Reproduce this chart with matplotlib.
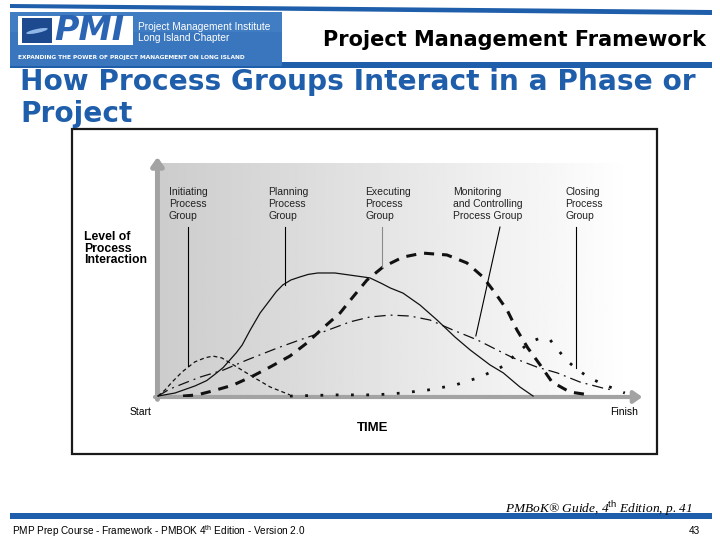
import numpy as np
import matplotlib.pyplot as plt
from matplotlib.patches import Rectangle, Ellipse, Polygon

plt.rcParams["mathtext.fontset"] = "custom"
plt.rcParams["mathtext.rm"] = "Liberation Sans"

# level of interaction over time (time 0-100, level 0-100)
init_t = [0.2, 1.7, 3.2, 5.3, 8.0, 10.1, 11.8, 13.7, 16.9, 20.7, 23.9, 28.1]
init_l = [0.4, 3.0, 6.4, 10.7, 15.0, 16.7, 17.5, 16.7, 12.8, 8.1, 4.3, 0.9]

plan_t = [0.2, 3.8, 8.0, 10.5, 12.3, 14.0, 15.4, 16.8, 18.0, 19.7, 21.8, 23.9, 25.2,
          26.6, 28.3, 30.2, 32.0, 34.0, 37.6, 40.8, 45.0, 47.5, 49.3, 52.0, 55.6,
          59.2, 63.0, 66.2, 70.4, 73.2, 76.7, 79.5]
plan_l = [0.4, 1.7, 4.7, 7.0, 9.8, 12.6, 15.8, 19.0, 22.2, 28.6, 35.9, 41.5, 45.0,
          47.9, 50.0, 51.3, 52.4, 53.0, 53.0, 52.1, 50.9, 48.5, 46.6, 44.4, 39.3,
          32.9, 25.6, 20.1, 13.7, 10.3, 4.3, 0.4]

exec_t = [5.5, 8.5, 11.8, 16.1, 20.3, 23.9, 28.1, 31.7, 35.1, 38.7, 41.4, 44.4, 47.8,
          52.0, 56.2, 61.3, 65.5, 68.9, 71.5, 74.0, 76.1, 78.4, 81.0, 83.5, 87.3, 91.5]
exec_l = [0.4, 0.9, 2.6, 5.1, 9.0, 12.8, 17.5, 23.1, 29.5, 35.9, 42.7, 50.0, 55.6,
          59.8, 61.5, 60.7, 57.3, 51.3, 44.4, 37.2, 28.6, 20.9, 13.7, 6.4, 2.1, 0.9]

mon_t = [0.2, 2.7, 5.9, 9.1, 14.0, 19.0, 25.4, 30.2, 35.1, 40.8, 45.0, 49.3, 53.5,
         57.7, 62.6, 67.7, 71.9, 75.3, 80.3, 84.6, 89.4, 94.3, 96.2]
mon_l = [0.4, 3.4, 6.0, 8.5, 11.5, 15.8, 20.9, 24.4, 27.8, 32.1, 34.2, 35.0, 34.6,
         32.9, 28.6, 24.4, 20.1, 16.7, 12.8, 10.3, 6.4, 3.8, 3.0]

close_t = [28.1, 37.6, 46.1, 51.8, 57.3, 63.0, 68.3, 73.2, 76.3, 78.9, 81.0, 83.1,
           84.8, 86.5, 89.0, 91.5, 94.7, 98.9]
close_l = [0.4, 0.9, 0.9, 1.7, 3.0, 5.1, 8.5, 13.2, 19.2, 23.5, 25.2, 24.4,
           20.1, 15.8, 11.5, 8.1, 5.1, 1.7]

groups = [["Initiating", "Process", "Group"],
          ["Planning", "Process", "Group"],
          ["Executing", "Process", "Group"],
          ["Monitoring", "and Controlling", "Process Group"],
          ["Closing", "Process", "Group"]]
label_t = [2.5, 23.5, 44.0, 62.6, 86.3]
ptr_top = [(6.6, 72.6), (27.1, 72.6), (47.6, 72.6), (72.5, 72.6), (88.6, 72.6)]
ptr_bot = [(6.6, 13.2), (27.1, 47.9), (47.6, 55.6), (67.4, 26.1), (88.6, 12.4)]
ptr_col = ["black", "black", "#8a8a8a", "black", "black"]

BLUE = "#1f5eaa"

fig = plt.figure(figsize=(7.2, 5.4), dpi=100)

# slide in pixel coordinates
bg = fig.add_axes([0, 0, 1, 1])
bg.set_xlim(0, 720)
bg.set_ylim(540, 0)
bg.axis("off")

bg.add_patch(Polygon([(10, 4), (712, 10), (712, 15), (10, 8)], color=BLUE, lw=0))
bg.add_patch(Rectangle((10, 62), 702, 6, color=BLUE, lw=0))
bg.add_patch(Rectangle((10, 513), 702, 6, color=BLUE, lw=0))

# logo
bg.add_patch(Rectangle((10, 12), 272, 54, color="#3a76bd", lw=0))
bg.add_patch(Rectangle((10, 12), 272, 20, color="#4682c6", lw=0, alpha=0.6))
bg.add_patch(Rectangle((18, 16), 115, 29, color="white", lw=0))
bg.add_patch(Rectangle((22, 18), 30, 25, color="#1d4a8e", lw=0))
bg.add_patch(Ellipse((37, 31), 22, 4, angle=-12, color="#8fb8e8", lw=0))
bg.text(54, 31, "PMI", fontsize=24, fontweight="bold", fontstyle="italic",
        color="#2c64b4", va="center", ha="left")
bg.text(138, 27, "Project Management Institute", fontsize=7.3, color="white",
        va="center", family="Liberation Sans")
bg.text(138, 38, "Long Island Chapter", fontsize=7.3, color="white",
        va="center", family="Liberation Sans")
bg.text(18, 58, "EXPANDING THE POWER OF PROJECT MANAGEMENT ON LONG ISLAND",
        fontsize=4.2, color="white", fontweight="bold", va="center")

bg.text(706, 46, "Project Management Framework", fontsize=15, fontweight="bold",
        ha="right", va="baseline", color="black")
bg.text(20, 90, "How Process Groups Interact in a Phase or", fontsize=20.2,
        fontweight="bold", color=BLUE, va="baseline")
bg.text(20, 122, "Project", fontsize=20.2, fontweight="bold", color=BLUE, va="baseline")

# chart frame
bg.add_patch(Rectangle((72, 129), 585, 325, facecolor="white", edgecolor="#1a1a1a", lw=1.6))
for i, s in enumerate(["Level of", "Process", "Interaction"]):
    bg.text(84, 237 + i * 11.5, s, fontsize=8.8, fontweight="bold",
            family="Liberation Sans", va="center")
bg.text(130, 412, "Start", fontsize=7.5, family="Liberation Sans", va="center")
bg.text(638, 412, "Finish", fontsize=7.5, family="Liberation Sans", va="center", ha="right")
bg.text(357, 428, "TIME", fontsize=9.5, fontweight="bold", family="Liberation Sans",
        va="center")

# footer
bg.text(693, 513, r"PMBoK® Guide, 4$^{\rm th}$ Edition, p. 41", fontsize=9.6,
        family="Liberation Serif", fontstyle="italic", ha="right", va="baseline")
bg.text(12, 531, r"PMP Prep Course - Framework - PMBOK 4$^{\rm th}$ Edition - Version 2.0",
        fontsize=7.2, family="Liberation Sans", va="center")
bg.text(700, 531, "43", fontsize=7.2, family="Liberation Sans", va="center", ha="right")

# chart
ax = fig.add_axes([155 / 720, 143 / 540, 485 / 720, 234 / 540])
ax.set_xlim(-0.42, 102.1)
ax.set_ylim(0, 100)
ax.axis("off")
ax.patch.set_alpha(0)

grad = np.linspace(0.80, 1.0, 200)[None, :]
ax.imshow(grad, extent=[-0.42, 100, 0, 100], aspect="auto", cmap="gray",
          vmin=0, vmax=1, zorder=0)

ax.annotate("", xy=(0.1, 102.6), xytext=(0.1, -1),
            arrowprops=dict(arrowstyle="-|>,head_length=0.5,head_width=0.35",
                            lw=3.6, color="#a3a3a3", shrinkA=0, shrinkB=0),
            annotation_clip=False, zorder=1)
ax.annotate("", xy=(102.6, 0), xytext=(-0.42, 0),
            arrowprops=dict(arrowstyle="-|>,head_length=0.5,head_width=0.35",
                            lw=3.0, color="#a3a3a3", shrinkA=0, shrinkB=0),
            annotation_clip=False, zorder=1)

ax.plot(plan_t, plan_l, color="#111111", lw=0.9, zorder=3)
ax.plot(init_t, init_l, color="#111111", lw=0.9, dashes=(3.2, 2.4), zorder=3)
ax.plot(exec_t, exec_l, color="#111111", lw=2.2, dashes=(3.3, 2.6), zorder=3)
ax.plot(mon_t, mon_l, color="#111111", lw=0.9, dashes=(9, 4, 1.5, 4), zorder=3)
ax.plot(close_t, close_l, color="#111111", lw=2.0, dashes=(1, 4.5), zorder=3,
        clip_on=False)

for g, t, top, bot, c in zip(groups, label_t, ptr_top, ptr_bot, ptr_col):
    for i, s in enumerate(g):
        ax.text(t, 87.6 - i * 5.13, s, fontsize=7.5, family="Liberation Sans",
                va="center", color="#222222")
    ax.plot([top[0], bot[0]], [top[1], bot[1]], color=c, lw=0.8, zorder=4)

fig.savefig("out.png", dpi=100)
